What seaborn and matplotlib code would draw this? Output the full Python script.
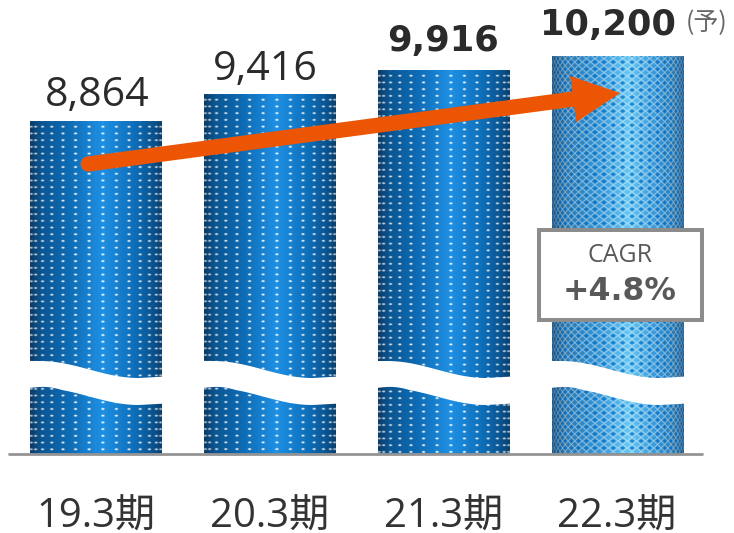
import numpy as np
import pandas as pd
import matplotlib
matplotlib.use("Agg")
import matplotlib.pyplot as plt
from matplotlib.colors import LinearSegmentedColormap
from matplotlib.patches import Polygon, Rectangle
import seaborn as sns

periods = ["19.3期", "20.3期", "21.3期", "22.3期"]
sales = [8864, 9416, 9916, 10200]
sales_labels = ["8,864", "9,416", "9,916", "10,200"]
label_bold = [False, False, True, True]
forecast_note = "(予)"
cagr_title = "CAGR"
cagr_value = "+4.8%"

W, H = 734, 533
sns.set_theme(style="white")
plt.rcParams["font.family"] = ["Open Sans", "Noto Sans CJK JP", "DejaVu Sans"]
fig = plt.figure(figsize=(W / 100, H / 100), dpi=100, facecolor="white")
BASE = 453.5
ax = fig.add_axes([0, 1 - BASE / H, 1, BASE / H])
ax.patch.set_alpha(0)


def px(x, y):
    return (x / W, 1 - y / H)


df = pd.DataFrame({"period": periods, "sales": sales})
sns.barplot(data=df, x="period", y="sales", ax=ax, width=0.755, color="#1272bd", saturation=1)
ax.set_xlim(-0.553, 3.673)
ax.set_ylim(2010, 11359)
ax.set(xlabel="", ylabel="")
ax.set_yticks([])
sns.despine(ax=ax, left=True, bottom=True)
ax.tick_params(axis="x", length=0, pad=31.5, labelsize=28.8, labelcolor="#333333")

solid = LinearSegmentedColormap.from_list("s", [(0, "#0a3b66"), (0.08, "#0b5592"), (0.3, "#0e6cb5"),
                                               (0.55, "#1f90e4"), (0.78, "#0f70bb"), (0.93, "#0a5490"), (1, "#0b3f6c")])
mesh = LinearSegmentedColormap.from_list("m", [(0, "#0d4573"), (0.1, "#2a78b0"), (0.35, "#3495d6"),
                                              (0.58, "#66c6f2"), (0.8, "#3495d6"), (0.93, "#2a78b0"), (1, "#134f80")])


def texture(w, h, forecast):
    ss = 3
    xs = (np.arange(w * ss) + 0.5) / (w * ss)
    ys = (np.arange(h * ss) + 0.5) / ss
    X, Y = np.meshgrid(xs, ys)
    U = np.arcsin(np.clip(2 * X - 1, -0.999, 0.999))
    if forecast:
        rgb = mesh(X)[..., :3]
        k = 22.0
        a = np.sin(k * U + Y * 2 * np.pi / 14)
        b = np.sin(k * U - Y * 2 * np.pi / 14)
        lines = np.clip(1 - np.minimum(np.abs(a), np.abs(b)) / 0.42, 0, 1)
        holes = np.clip((np.abs(a) * np.abs(b) - 0.45) / 0.3, 0, 1) * (a * b > 0)
        rgb = rgb * (1 - 0.62 * lines[..., None]) + 0.62 * lines[..., None]
        rgb = rgb * (1 - 0.7 * holes[..., None]) + 0.7 * holes[..., None] * np.array([0.0, 0.42, 0.78])
    else:
        rgb = solid(X)[..., :3]
        k = 15.0
        col = k * (U + np.pi / 2) / np.pi
        row = Y / 6.7
        dx = (col - np.round(col)) * np.pi / k * (w / 2) * np.sqrt(np.clip(1 - (2 * X - 1) ** 2, 0.02, 1))
        dy = (row - np.round(row)) * 6.7
        d = np.clip(1.6 - np.sqrt((dx / 2.2) ** 2 + (dy / 1.3) ** 2) * 1.6, 0, 1)
        d = d * (0.6 + 0.4 * np.sqrt(np.clip(1 - (2 * X - 1) ** 2, 0, 1)))
        rgb = rgb * (1 - d[..., None]) + d[..., None]
    return rgb


for i, bar in enumerate(ax.patches[:len(sales)]):
    x0, wd = bar.get_x(), bar.get_width()
    top = bar.get_height()
    ymin = ax.get_ylim()[0]
    pw = int(round(wd * 173.7))
    ph = int(round((top - ymin) * 0.0485))
    im = ax.imshow(texture(pw, ph, i == 3), extent=(x0, x0 + wd, ymin, top), aspect="auto",
                   origin="upper", zorder=2, interpolation="antialiased")
    im.set_clip_path(bar)

    # white wavy axis break across the bar
    left = x0 * 173.7 + 96
    right = (x0 + wd) * 173.7 + 96
    t = np.linspace(0, 1, 80)
    s = (1 - np.cos(np.pi * np.clip((t - 0.08) / 0.74, 0, 1))) / 2 - 0.08 * np.clip((t - 0.82) / 0.18, 0, 1)
    xp = left - 1.5 + t * (right - left + 3)
    up = 361 + 17 * s
    lo = 388 + 17 * s
    lo = lo - 1.2 * np.sin(np.pi * np.clip(t / 0.25, 0, 1))
    pts = [px(a, b) for a, b in zip(xp, up)] + [px(a, b) for a, b in zip(xp[::-1], lo[::-1])]
    ax.add_patch(Polygon(pts, closed=True, transform=fig.transFigure, fc="white", ec="none", zorder=3))

# baseline
ax.add_line(plt.Line2D([9 / W, 702 / W], [1 - 454 / H] * 2, transform=fig.transFigure, color="#949494",
                       lw=2, zorder=4, clip_on=False))

# value labels
offs = [(1, 15), (-4, 14), (0, 19), (-9, 21)]
for i, (v, lab) in enumerate(zip(sales, sales_labels)):
    bold = label_bold[i]
    ax.annotate(lab, (i, v), xytext=offs[i], textcoords="offset pixels", ha="center",
                va="baseline", fontsize=25.4 if bold else 29.6, fontweight="bold" if bold else "normal",
                family=["DejaVu Sans"] if bold else ["Open Sans"],
                color="#2b2b2b", zorder=6, annotation_clip=False)
fig.text(*px(707, 23), forecast_note, ha="center", va="center", fontsize=18, color="#666666",
         family=["Noto Sans CJK JP"])

# arrow
ax.add_line(plt.Line2D([88 / W, 585 / W], [1 - 164 / H, 1 - 97.5 / H], transform=fig.transFigure,
                       color="#ec5504", lw=11, solid_capstyle="round", zorder=7, clip_on=False))
ax.add_patch(Polygon([px(570, 76), px(620, 93), px(576, 122)], closed=True, transform=fig.transFigure,
                     fc="#ec5504", ec="none", zorder=7, clip_on=False))

# CAGR box
ax.add_patch(Rectangle(px(538.5, 320), 163 / W, 90.5 / H, transform=fig.transFigure, fc="white",
                       ec="#8c8c8c", lw=2.9, zorder=8, clip_on=False))
fig.text(*px(620, 256), cagr_title, ha="center", va="center", fontsize=18, color="#595959", zorder=9,
         family=["Open Sans"])
fig.text(*px(620, 291), cagr_value, ha="center", va="center", fontsize=22.7, fontweight="bold", color="#595959",
         zorder=9, family=["DejaVu Sans"])

fig.savefig("out.png", dpi=100, facecolor="white")
